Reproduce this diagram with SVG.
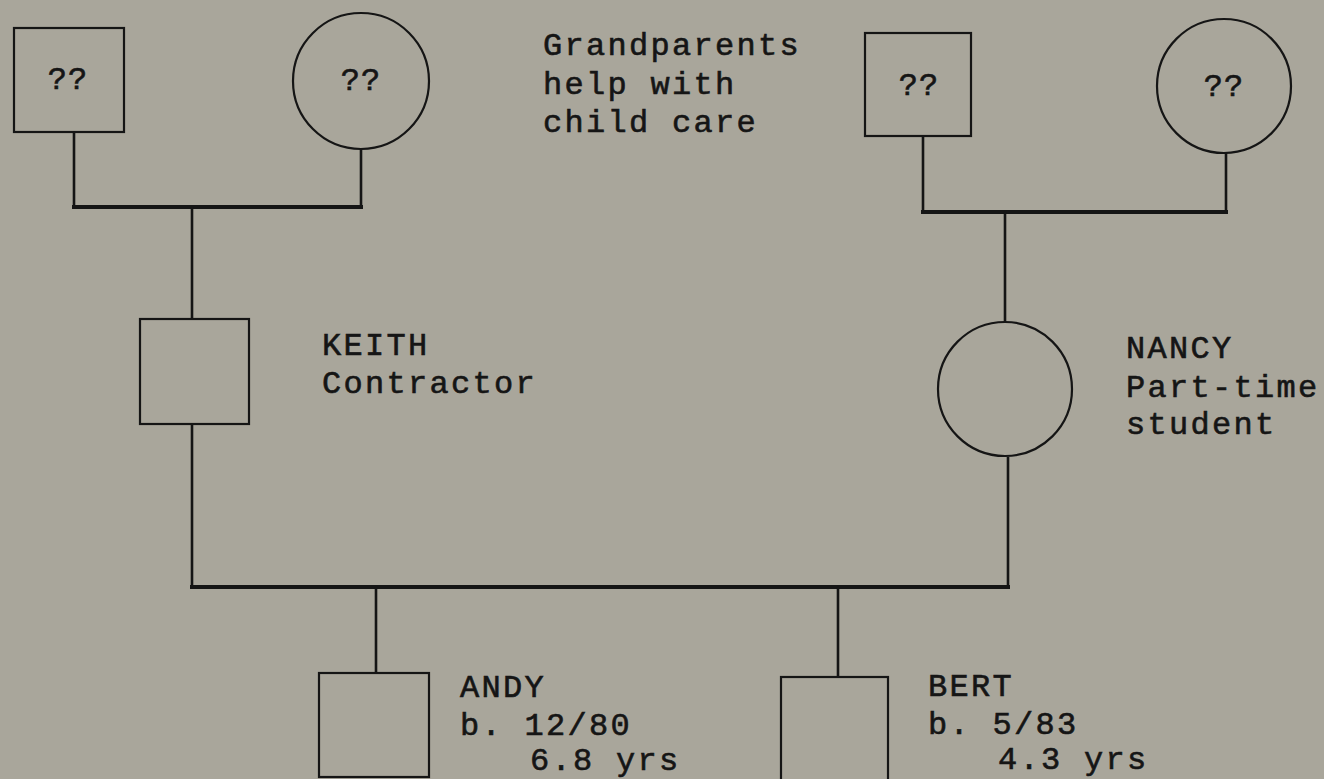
<svg xmlns="http://www.w3.org/2000/svg" width="1324" height="779" viewBox="0 0 1324 779">
<style>
.shape{fill:none;stroke:#151515;stroke-width:2.2}
.v{fill:none;stroke:#151515;stroke-width:2.6}
.h{fill:none;stroke:#151515;stroke-width:4}
text{font-family:"Liberation Mono","DejaVu Sans Mono",monospace;font-size:32px;fill:#151515;stroke:#151515;stroke-width:0.6;letter-spacing:2.3px}
.q{text-anchor:middle;letter-spacing:1px}
</style>
<rect width="1324" height="779" fill="#a9a69b"/>
<g id="connectors">
<polyline class="v" points="74,132 74,207"/>
<polyline class="v" points="361,149 361,207"/>
<polyline class="h" points="72,207 363,207"/>
<polyline class="v" points="192,207 192,319"/>
<polyline class="v" points="923,136 923,212"/>
<polyline class="v" points="1226,153 1226,212"/>
<polyline class="h" points="921,212 1228,212"/>
<polyline class="v" points="1005,212 1005,322"/>
<polyline class="v" points="192,424 192,587"/>
<polyline class="v" points="1008,457 1008,587"/>
<polyline class="h" points="190,587 1010,587"/>
<polyline class="v" points="376,587 376,673"/>
<polyline class="v" points="838,587 838,677"/>
</g>
<g id="gf-left"><rect class="shape" x="14" y="28" width="110" height="104"/><text class="q" x="68" y="89">??</text></g>
<g id="gm-left"><circle class="shape" cx="361" cy="81" r="68"/><text class="q" x="361" y="90">??</text></g>
<g id="gf-right"><rect class="shape" x="865" y="33" width="106" height="103"/><text class="q" x="919" y="95">??</text></g>
<g id="gm-right"><circle class="shape" cx="1224" cy="86" r="67"/><text class="q" x="1224" y="96">??</text></g>
<g id="note"><text x="543" y="55">Grandparents</text><text x="543" y="94">help with</text><text x="543" y="132">child care</text></g>
<g id="keith"><rect class="shape" x="140" y="319" width="109" height="105"/><text x="322" y="355">KEITH</text><text x="322" y="393">Contractor</text></g>
<g id="nancy"><circle class="shape" cx="1005" cy="389" r="67"/><text x="1126" y="358">NANCY</text><text x="1126" y="397">Part-time</text><text x="1126" y="434">student</text></g>
<g id="andy"><rect class="shape" x="319" y="673" width="110" height="104"/><text x="460" y="697">ANDY</text><text x="460" y="735">b. 12/80</text><text x="530" y="770">6.8 yrs</text></g>
<g id="bert"><rect class="shape" x="781" y="677" width="107" height="104"/><text x="928" y="696">BERT</text><text x="928" y="734">b. 5/83</text><text x="998" y="769">4.3 yrs</text></g>
</svg>
